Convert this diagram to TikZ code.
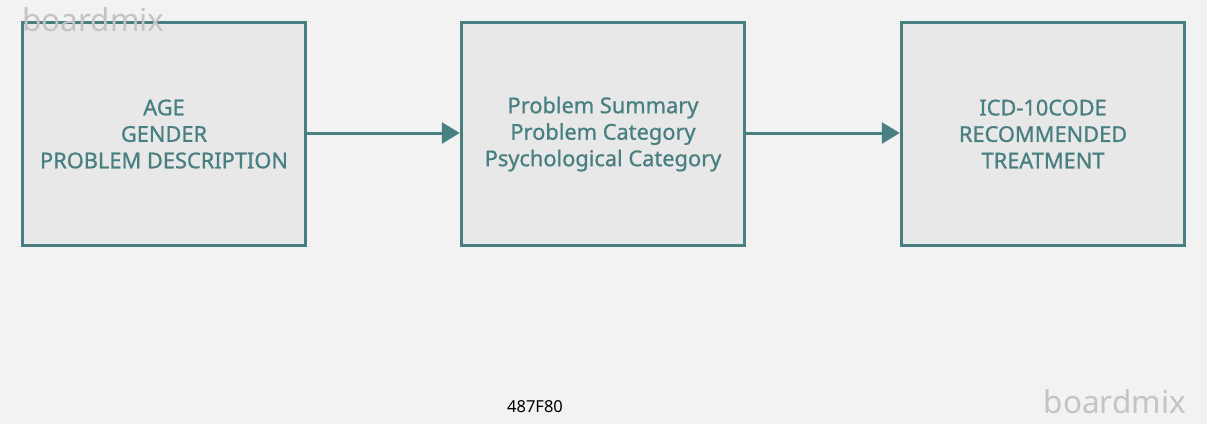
\documentclass[tikz,border=0pt]{standalone}
\usepackage{fontspec}
\setmainfont{Noto Sans}
\newfontfamily\boxfont[FakeBold=0.9]{Noto Sans}
\usetikzlibrary{arrows.meta}
\definecolor{teal1}{HTML}{487F80}
\definecolor{bg}{HTML}{F2F2F2}
\definecolor{boxfill}{HTML}{E8E8E8}
\definecolor{wm}{HTML}{C4C4C4}
\tikzset{
  procbox/.style={draw=teal1, fill=boxfill, line width=3.5pt, minimum width=283pt, minimum height=223pt, inner sep=0pt,
    text=teal1, font=\boxfont\fontsize{21.8}{26.5}\selectfont, align=center},
  flow/.style={draw=teal1, line width=3pt, -{Triangle[length=18pt,width=21pt]}},
  watermark/.style={text=wm, font=\fontsize{31.5}{32}\selectfont, inner sep=0pt, anchor=base west}
}
\begin{document}
\begin{tikzpicture}[x=1pt,y=-1pt]
\fill[bg] (0,0) rectangle (1207,424);
\useasboundingbox (0,0) rectangle (1207,424);
\node[procbox] (a) at (164,134) {AGE\\GENDER\\PROBLEM DESCRIPTION};
\node[procbox] (b) at (603,134) {Problem Summary\\Problem Category\\Psychological Category};
\node[procbox] (c) at (1043,134) {ICD-10CODE\\RECOMMENDED\\TREATMENT};
\draw[flow] (a.east |- 0,133) -- (b.west |- 0,133);
\draw[flow] (b.east |- 0,133) -- (c.west |- 0,133);
\node[watermark] (w1) at (22,31) {boardmix};
\node[watermark, anchor=base east] (w2) at (1186,413) {boardmix};
\node[font=\fontsize{16.5}{18}\selectfont, text=black, inner sep=0pt] (hex) at (535,407) {487F80};
\end{tikzpicture}
\end{document}
